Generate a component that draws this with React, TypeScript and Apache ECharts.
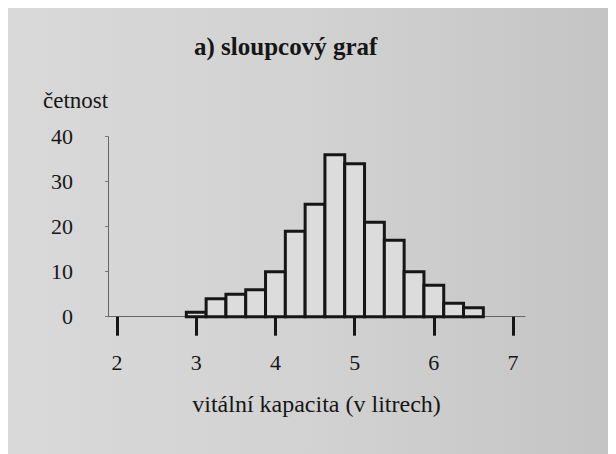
import React, { useEffect, useRef } from "react";
import * as echarts from "echarts";

const titleText = "a) sloupcový graf";
const yName = "četnost";
const xName = "vitální kapacita (v litrech)";
const binCenters = [3.0, 3.25, 3.5, 3.75, 4.0, 4.25, 4.5, 4.75, 5.0, 5.25, 5.5, 5.75, 6.0, 6.25, 6.5];
const counts = [1, 4, 5, 6, 10, 19, 25, 36, 34, 21, 17, 10, 7, 3, 2];
const binWidth = 0.25;
const xTickValues = [2, 3, 4, 5, 6, 7];
const yTickValues = [0, 10, 20, 30, 40];

const FONT = "'Liberation Serif', 'Times New Roman', serif";
const INK = "#161616";

export default function App() {
  const ref = useRef<HTMLDivElement>(null);
  useEffect(() => {
    if (!ref.current) return;
    const chart = echarts.init(ref.current, undefined, { renderer: "svg" });
    const data = binCenters.map((c, i) => [c - binWidth / 2, c + binWidth / 2, counts[i]]);
    chart.setOption({
      animation: false,
      backgroundColor: "transparent",
      title: {
        text: titleText,
        left: 186,
        top: 26,
        padding: 0,
        textStyle: { fontFamily: FONT, fontSize: 25, fontWeight: "bold", color: INK },
      },
      graphic: [
        {
          type: "text",
          left: 35,
          top: 81,
          style: { text: yName, fontFamily: FONT, fontSize: 23, fill: INK },
        },
      ],
      grid: { left: 100, right: 91, top: 128.7, bottom: 137.3 },
      xAxis: {
        type: "value",
        min: 1.886,
        max: 7.151,
        name: xName,
        nameLocation: "middle",
        nameGap: 75,
        nameTextStyle: { fontFamily: FONT, fontSize: 24, color: INK },
        axisLine: { show: true, lineStyle: { color: "#666", width: 1 } },
        axisTick: {
          show: true,
          length: 19,
          customValues: xTickValues,
          lineStyle: { color: INK, width: 3 },
        },
        axisLabel: {
          customValues: xTickValues,
          margin: 35,
          fontFamily: FONT,
          fontSize: 22,
          color: INK,
        },
        splitLine: { show: false },
      },
      yAxis: {
        type: "value",
        min: 0,
        max: 40,
        interval: 10,
        axisLine: { show: true, lineStyle: { color: "#666", width: 1 } },
        axisTick: { show: true, length: 3, inside: false, lineStyle: { color: "#777", width: 1 } },
        axisLabel: {
          customValues: yTickValues,
          margin: 35,
          fontFamily: FONT,
          fontSize: 22,
          color: INK,
          padding: [10, 0, 0, 0],
        },
        splitLine: { show: false },
      },
      series: [
        {
          type: "custom",
          data,
          encode: { x: [0, 1], y: 2 },
          renderItem: (params: any, api: any) => {
            const s = api.coord([api.value(0), 0]);
            const e = api.coord([api.value(1), api.value(2)]);
            return {
              type: "rect",
              shape: { x: s[0], y: e[1], width: e[0] - s[0], height: s[1] - e[1] },
              style: { fill: "#dcdcdc", stroke: INK, lineWidth: 3 },
            };
          },
        },
      ],
    });
    return () => chart.dispose();
  }, []);
  return (
    <div
      ref={ref}
      style={{
        width: 608,
        height: 446,
        background: "linear-gradient(90deg, #d9d9d9 0%, #d2d2d2 50%, #c4c4c4 100%)",
      }}
    />
  );
}
